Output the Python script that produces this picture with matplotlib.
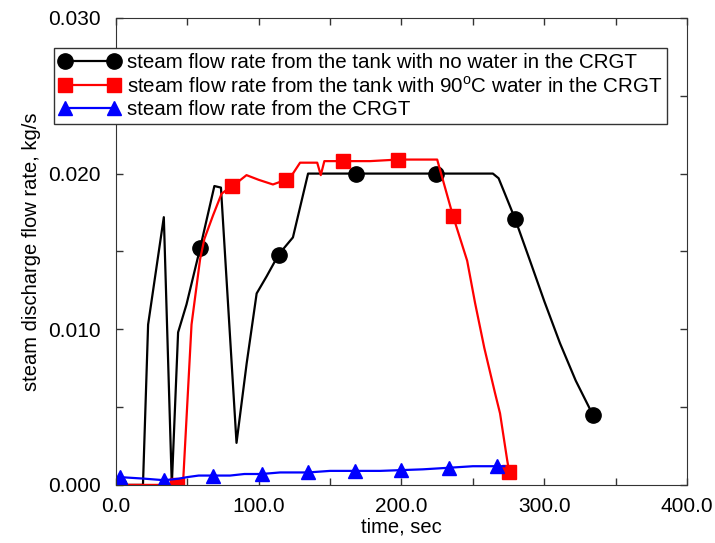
import matplotlib
matplotlib.use("Agg")
import matplotlib.pyplot as plt
from matplotlib.ticker import MultipleLocator, FormatStrFormatter

plt.rcParams['font.family'] = ['Liberation Sans', 'DejaVu Sans']

# steam flow from the tank, no water in the CRGT
t_dry = [2, 19, 22.6, 33.6, 39.2, 43.6, 49.5, 59, 69, 73.6, 84.5, 91.6, 98.6, 105.6,
         114, 124, 134.6, 168, 224, 264, 268, 272, 279.5, 290, 300, 311, 322, 334]
q_dry = [0, 0, 0.0103, 0.0172, 0, 0.0098, 0.0116, 0.0152, 0.0192, 0.0191, 0.0027,
         0.0078, 0.0123, 0.0134, 0.0148, 0.0159, 0.0200, 0.0200, 0.0200, 0.0200,
         0.0197, 0.0188, 0.0171, 0.0144, 0.0118, 0.0091, 0.0067, 0.0045]
mk_dry = [0, 7, 14, 17, 18, 22, 27]

# steam flow from the tank, 90C water in the CRGT
t_hot = [0.5, 42.5, 47, 53, 59, 62, 68, 74, 81, 86, 91.5, 100, 110, 119, 124, 129,
         141, 143.5, 146, 159, 178, 197.5, 225, 236, 246, 251.5, 258, 265.5, 269, 274, 275.5]
q_hot = [0, 0, 0, 0.0103, 0.0145, 0.0158, 0.0173, 0.0187, 0.0192, 0.0195, 0.0199,
         0.0196, 0.0193, 0.0196, 0.0200, 0.0207, 0.0207, 0.0199, 0.0208, 0.0208,
         0.0208, 0.0209, 0.0209, 0.0173, 0.0144, 0.0117, 0.0088, 0.0059, 0.0046,
         0.0016, 0.0008]
mk_hot = [0, 1, 8, 13, 19, 21, 23, 30]

# steam flow from the CRGT
t_crgt = [3, 20, 34, 44, 50, 58, 68, 80, 90, 102, 115, 125, 134.7, 150, 167.5, 185,
          200, 215, 233, 250, 267, 272]
q_crgt = [0.0005, 0.0004, 0.0003, 0.0004, 0.0005, 0.0006, 0.0006, 0.0006, 0.0007,
          0.0007, 0.0008, 0.0008, 0.0008, 0.0009, 0.0009, 0.0009, 0.00095, 0.001,
          0.0011, 0.0012, 0.0012, 0.0012]
mk_crgt = [0, 2, 6, 9, 12, 14, 16, 18, 20]

labels = ["steam flow rate from the tank with no water in the CRGT",
          r"steam flow rate from the tank with 90$^\mathregular{o}$C water in the CRGT",
          "steam flow rate from the CRGT"]

fig = plt.figure(figsize=(7.15, 5.43), dpi=100)
ax = fig.add_axes([0.162, 0.107, 0.799, 0.860])

ax.plot(t_dry, q_dry, color="black", lw=1.6, marker="o", ms=11,
        markevery=mk_dry, label=labels[0])
ax.plot(t_hot, q_hot, color="#ff0000", lw=1.6, marker="s", ms=9.5,
        markevery=mk_hot, label=labels[1])
ax.plot(t_crgt, q_crgt, color="#0000ff", lw=1.6, marker="^", ms=10.5,
        markevery=mk_crgt, label=labels[2])

ax.set_xlim(0, 400)
ax.set_ylim(0, 0.030)
ax.xaxis.set_major_locator(MultipleLocator(100))
ax.xaxis.set_minor_locator(MultipleLocator(50))
ax.yaxis.set_major_locator(MultipleLocator(0.010))
ax.yaxis.set_minor_locator(MultipleLocator(0.005))
ax.xaxis.set_major_formatter(FormatStrFormatter("%.1f"))
ax.yaxis.set_major_formatter(FormatStrFormatter("%.3f"))
ax.tick_params(which="both", direction="in", top=True, right=True, length=5,
               width=1, labelsize=15, color="#333333")
ax.tick_params(axis="y", pad=11)
ax.tick_params(axis="x", pad=9)
for s in ax.spines.values():
    s.set_color("#333333")

ax.set_xlabel("time, sec", fontsize=14.5, labelpad=1)
ax.set_ylabel("steam discharge flow rate, kg/s", fontsize=14.5, labelpad=5)

leg = ax.legend(loc="upper left", bbox_to_anchor=(-0.109, 0.936), fontsize=14.8,
                numpoints=2, handlelength=3.0, handletextpad=0.3, borderpad=0.25,
                labelspacing=0.18, frameon=True, fancybox=False, framealpha=1,
                borderaxespad=0)
leg.get_frame().set_edgecolor("#333333")
leg.get_frame().set_linewidth(1)

fig.savefig("out.png", dpi=100)
